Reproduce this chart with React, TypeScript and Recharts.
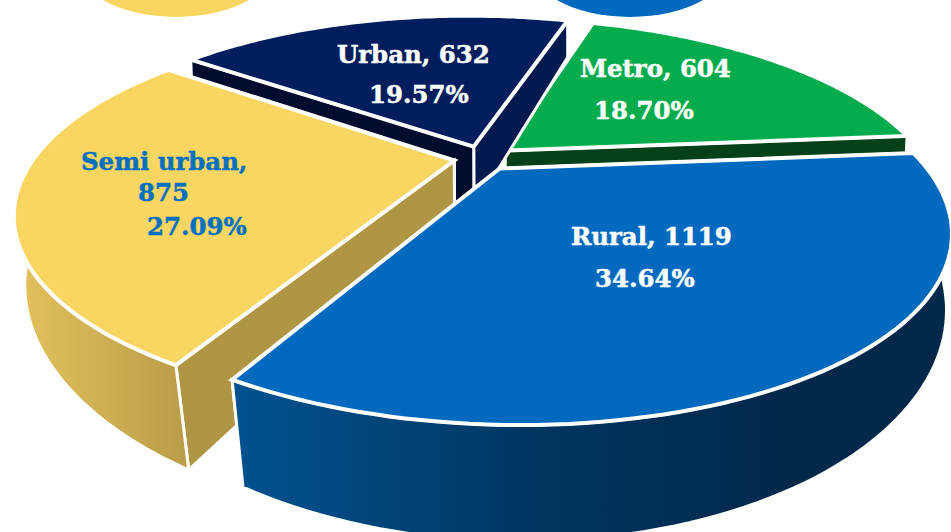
import { PieChart, Pie } from 'recharts'

const categories = ['Metro', 'Urban', 'Semi urban', 'Rural']
const counts = [604, 632, 875, 1119]

const topColors = ['#05AC4E', '#001E5E', '#F9D562', '#016ABF']
const leftWallColors = ['#04401A', '#000C2E', '#B09545', '#014F8E']
const rightWallColors = ['#04401A', '#001A50', '#B09545', '#014F8E']
const arcWallFills = ['#04401A', '#001A50', 'url(#semiWall)', 'url(#ruralWall)']

const tableData = categories.map((name, i) => ({ name, value: counts[i] }))

// hand placed label anchors: [first line x, y, second line x, y]
const labelSpots = [
  { name: [580, 77], pct: [594, 119], color: '#fff' },
  { name: [337, 63], pct: [369, 103], color: '#fff' },
  { name: [81, 170], pct: [147, 235], color: '#0070C0' },
  { name: [571, 245], pct: [595, 287], color: '#fff' },
]

// perspective of the tilted disc
const TILT = 0.416
const PERSPECTIVE = 0.29
const EXPLODE = 0.07

const toScreen = (cx: number, cy: number, r: number, u: number, v: number) => {
  const w = 1 - PERSPECTIVE * v
  const y = cy + (r * TILT * v) / w
  // the source picture leans a little
  const lean = (y > cy ? 0.055 : 0.05) * (y - cy)
  return [cx + (r * u) / w + lean, y]
}

// extrusion gets deeper and slightly narrower towards the viewer
const dropDown = (cx: number, p: number[]) => {
  const t = (p[1] - 21) / 361
  const inward = p[0] < cx ? 0.044 : 0.02
  return [p[0] + (cx - p[0]) * inward * t, p[1] + 37 + 71 * t]
}

const toPath = (pts: number[][]) =>
  pts.map((p, i) => `${i ? 'L' : 'M'}${p[0].toFixed(1)},${p[1].toFixed(1)}`).join(' ') + ' Z'

function Slice3D(props: any) {
  const { cx, cy, outerRadius, startAngle, endAngle, index } = props
  const rad = Math.PI / 180
  const mid = ((startAngle + endAngle) / 2) * rad
  const offU = EXPLODE * Math.cos(mid)
  const offV = -EXPLODE * Math.sin(mid)
  const at = (u: number, v: number) => toScreen(cx, cy, outerRadius, offU + u, offV + v)

  const tip = at(0, 0)
  const arc: number[][] = []
  const steps = 80
  for (let i = 0; i <= steps; i++) {
    const a = (startAngle + ((endAngle - startAngle) * i) / steps) * rad
    arc.push(at(Math.cos(a), -Math.sin(a)))
  }
  const low = (p: number[]) => dropDown(cx, p)
  const first = arc[0]
  const last = arc[arc.length - 1]
  const edge = { stroke: '#fff', strokeWidth: 3, strokeLinejoin: 'miter' as const }

  const firstWall = <path d={toPath([tip, first, low(first), low(tip)])} fill={rightWallColors[index]} {...edge} />
  const lastWall = <path d={toPath([tip, last, low(last), low(tip)])} fill={leftWallColors[index]} {...edge} />
  const arcWall = <path d={toPath([...arc, ...arc.map(low).reverse()])} fill={arcWallFills[index]} {...edge} />
  const farSide = Math.sin(mid) > 0

  // far rim sits behind the cut faces, near rim in front of them
  return (
    <g>
      {farSide && arcWall}
      {first[1] > last[1] ? lastWall : firstWall}
      {first[1] > last[1] ? firstWall : lastWall}
      {!farSide && arcWall}
      <path d={toPath([tip, ...arc])} fill={topColors[index]} {...edge} strokeWidth={4} />
    </g>
  )
}

function SliceLabel(props: any) {
  const { index, name, value, percent } = props
  const spot = labelSpots[index]
  const common = {
    fill: spot.color,
    stroke: spot.color,
    strokeWidth: 0.5,
    fontFamily: 'DejaVu Serif',
    fontWeight: 700,
    fontSize: 24.4,
  }
  const isSemi = name === 'Semi urban'
  return (
    <g>
      <text x={spot.name[0]} y={spot.name[1]} {...common}>
        {isSemi ? `${name},` : `${name}, ${value}`}
      </text>
      {isSemi && (
        <text x={138} y={201} {...common}>
          {value}
        </text>
      )}
      <text x={spot.pct[0]} y={spot.pct[1]} {...common}>
        {`${(percent * 100).toFixed(2)}%`}
      </text>
    </g>
  )
}

export default function App() {
  return (
    <div style={{ position: 'absolute', left: 0, top: 0, width: 951, height: 532, background: '#fff', overflow: 'hidden' }}>
      <PieChart width={951} height={532} margin={{ top: 0, right: 0, bottom: 0, left: 0 }}>
        <defs>
          <linearGradient id="semiWall" gradientUnits="userSpaceOnUse" x1="15" y1="0" x2="190" y2="0">
            <stop offset="0%" stopColor="#E3C25C" />
            <stop offset="100%" stopColor="#B99C48" />
          </linearGradient>
          <linearGradient id="ruralWall" gradientUnits="userSpaceOnUse" x1="235" y1="0" x2="800" y2="0">
            <stop offset="0%" stopColor="#01528F" />
            <stop offset="55%" stopColor="#003560" />
            <stop offset="100%" stopColor="#00284A" />
          </linearGradient>
        </defs>
        {/* legend blobs cut off by the top of the picture */}
        <ellipse cx={176} cy={-43} rx={105} ry={60} fill="#F9D562" />
        <ellipse cx={630} cy={-43} rx={105} ry={60} fill="#016ABF" />
        <Pie
          data={tableData}
          dataKey="value"
          nameKey="name"
          cx={483}
          cy={158}
          outerRadius={420}
          startAngle={5}
          endAngle={365}
          shape={Slice3D}
          label={SliceLabel}
          labelLine={false}
          isAnimationActive={false}
        />
      </PieChart>
    </div>
  )
}
